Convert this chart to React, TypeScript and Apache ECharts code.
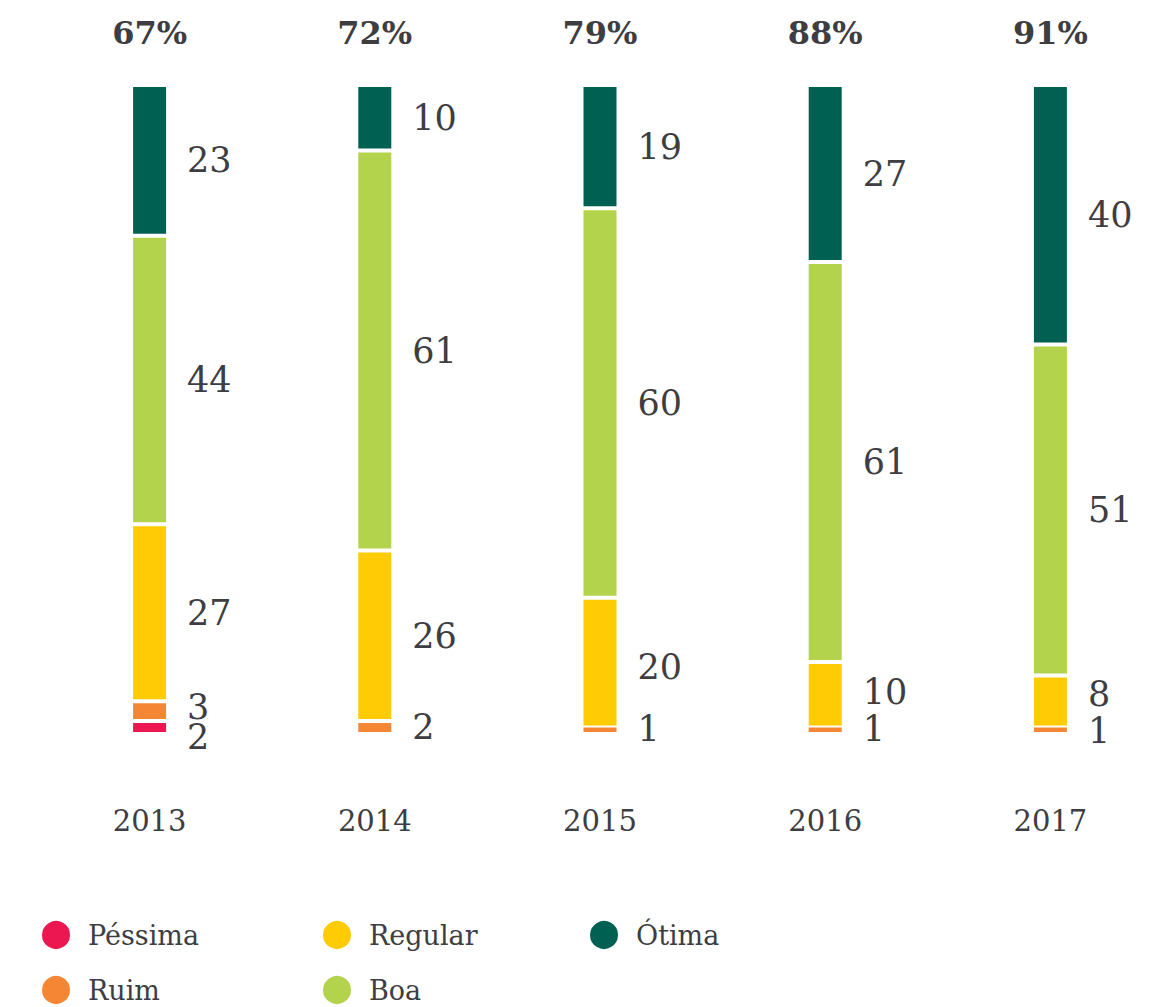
import React, { useEffect, useRef } from "react";
import * as echarts from "echarts";

const years = ["2013", "2014", "2015", "2016", "2017"];
const totals = ["67%", "72%", "79%", "88%", "91%"];
const pessima = [2, null, null, null, null];
const ruim = [3, 2, 1, 1, 1];
const regular = [27, 26, 20, 10, 8];
const boa = [44, 61, 60, 61, 51];
const otima = [23, 10, 19, 27, 40];

const names = ["Péssima", "Ruim", "Regular", "Boa", "Ótima"];
const colors = ["#EC1651", "#F58634", "#FFCB05", "#B2D34B", "#006152"];
const values = [pessima, ruim, regular, boa, otima];

// label vertical nudges (style only), keyed by series index then category index
const labelNudge: Record<string, number> = {
  "0-0": 10,
  "1-0": -4,
  "1-4": 2,
  "2-2": 4,
  "2-3": -3,
  "2-4": -8,
};

const FONT = "DejaVu Serif";
const TXT = "#3d3d42";

export default function App() {
  const ref = useRef<HTMLDivElement>(null);
  useEffect(() => {
    if (!ref.current) return;
    const chart = echarts.init(ref.current, null, { renderer: "svg" });
    // each bar is drawn as a share of its own total (full-height bars)
    const sums = years.map((_, ci) =>
      values.reduce((s, arr) => s + (arr[ci] ?? 0), 0)
    );
    const series = names.map((name, si) => ({
      name,
      type: "bar",
      stack: "total",
      barWidth: 37,
      barMinHeight: si === 1 ? 10 : 0,
      xAxisIndex: 0,
      itemStyle: { color: colors[si], borderColor: "#ffffff", borderWidth: 2 },
      label: {
        show: true,
        position: "right",
        distance: 19,
        fontFamily: FONT,
        fontSize: 35,
        color: TXT,
        formatter: (p: any) => String(values[si][p.dataIndex]),
      },
      data: values[si].map((v, ci) => {
        const nudge = labelNudge[`${si}-${ci}`];
        if (v == null) return null;
        const share = (v / sums[ci]) * 100;
        return nudge ? { value: share, label: { offset: [0, nudge] } } : share;
      }),
    }));

    const legends = [
      { name: "Péssima", left: 40, top: 919 },
      { name: "Regular", left: 321, top: 919 },
      { name: "Ótima", left: 588, top: 919 },
      { name: "Ruim", left: 40, top: 974 },
      { name: "Boa", left: 321, top: 974 },
    ].map((l) => ({
      data: [l.name],
      left: l.left,
      top: l.top,
      padding: 0,
      icon: "circle",
      itemWidth: 30,
      itemHeight: 30,
      selectedMode: false,
      textStyle: {
        fontFamily: FONT,
        fontSize: 27,
        color: TXT,
        padding: [0, 0, 0, 12],
      },
    }));

    chart.setOption({
      animation: false,
      backgroundColor: "#ffffff",
      grid: { left: 37, width: 1126, top: 85, height: 649, containLabel: false },
      legend: legends,
      xAxis: [
        {
          type: "category",
          data: years,
          position: "bottom",
          axisLine: { show: false },
          axisTick: { show: false },
          axisLabel: { margin: 72, fontFamily: FONT, fontSize: 29, color: TXT },
        },
        {
          type: "category",
          data: totals,
          position: "top",
          axisLine: { show: false },
          axisTick: { show: false },
          axisLabel: {
            margin: 36,
            fontFamily: FONT,
            fontSize: 32,
            fontWeight: "bold",
            color: TXT,
          },
        },
      ],
      yAxis: {
        type: "value",
        min: 0,
        max: 100,
        show: false,
        splitLine: { show: false },
      },
      series,
    });
    return () => chart.dispose();
  }, []);
  return (
    <div
      ref={ref}
      style={{ position: "absolute", left: 0, top: 0, width: 1168, height: 1007 }}
    />
  );
}
